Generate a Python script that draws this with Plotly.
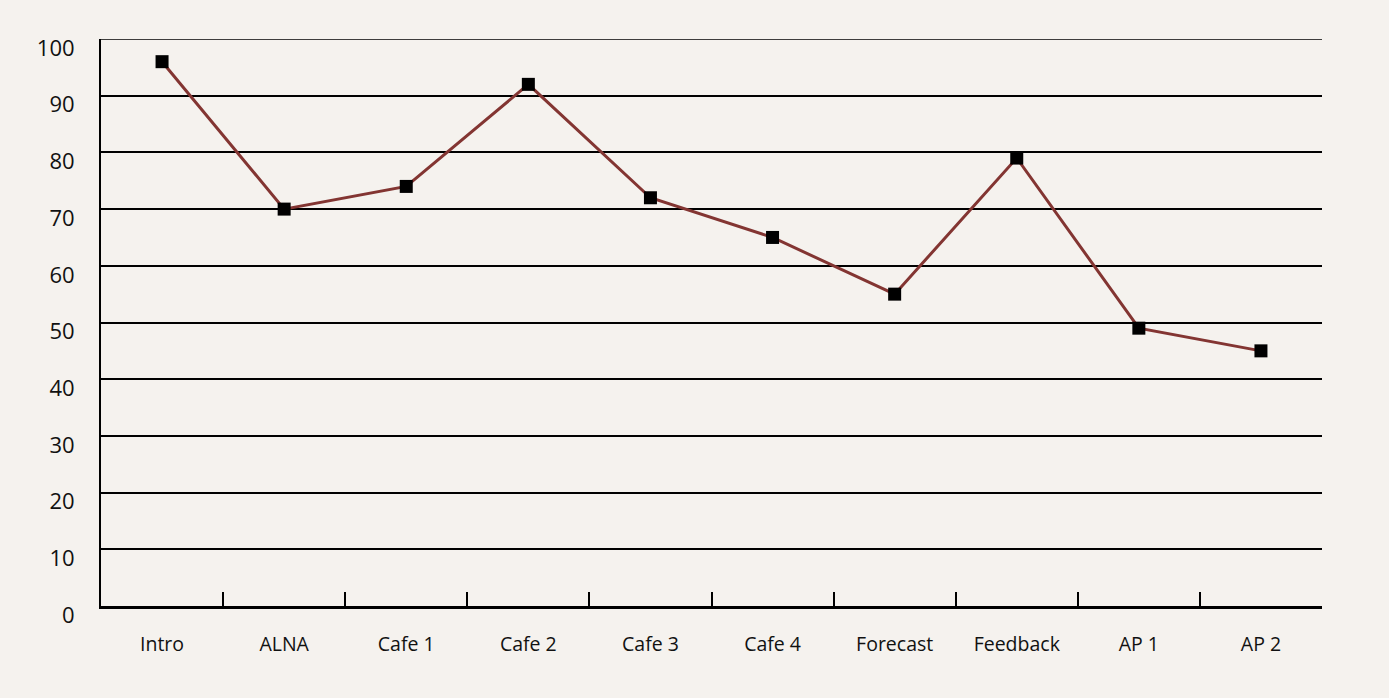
import plotly.graph_objects as go

# Session names and scores
sessions = ["Intro", "ALNA", "Cafe 1", "Cafe 2", "Cafe 3", "Cafe 4",
            "Forecast", "Feedback", "AP 1", "AP 2"]
scores = [96, 70, 74, 92, 72, 65, 55, 79, 49, 45]
y_ticks = [0, 10, 20, 30, 40, 50, 60, 70, 80, 90, 100]

bg = "#f5f2ee"
font_family = "'Open Sans', Lato, sans-serif"

fig = go.Figure()
fig.add_trace(go.Scatter(
    x=sessions,
    y=scores,
    mode="lines+markers",
    line=dict(color="#833532", width=3),
    marker=dict(symbol="square", size=13, color="#000000"),
    showlegend=False,
    hoverinfo="x+y",
))

# top gridline at the upper edge of the value range
fig.add_shape(
    type="line", xref="paper", yref="y",
    x0=0, x1=1, y0=y_ticks[-1], y1=y_ticks[-1],
    line=dict(color="#000000", width=1.5),
    layer="below",
)

fig.update_layout(
    width=1389,
    height=698,
    paper_bgcolor=bg,
    plot_bgcolor=bg,
    margin=dict(l=101, r=67, t=39, b=92),
    font=dict(family=font_family, color="#111111"),
)

fig.update_xaxes(
    type="category",
    categoryorder="array",
    categoryarray=sessions,
    range=[-0.5, len(sessions) - 0.5],
    showgrid=False,
    showline=True,
    linecolor="#000000",
    linewidth=2.5,
    ticks="inside",
    tickson="boundaries",
    ticklen=14,
    tickwidth=1.5,
    tickcolor="#000000",
    ticklabelstandoff=19,
    tickfont=dict(size=19.5, family=font_family, color="#111111", weight=500),
    zeroline=False,
)

fig.update_yaxes(
    range=[0, 100],
    tickvals=y_ticks,
    ticktext=[str(v) for v in y_ticks],
    showgrid=True,
    gridcolor="#000000",
    gridwidth=1.5,
    showline=True,
    linecolor="#000000",
    linewidth=2,
    ticks="",
    ticklabelstandoff=20,
    ticklabelshift=9,
    tickfont=dict(size=22, family=font_family, color="#111111", weight=500),
    zeroline=False,
)

fig.write_html("out.html")
